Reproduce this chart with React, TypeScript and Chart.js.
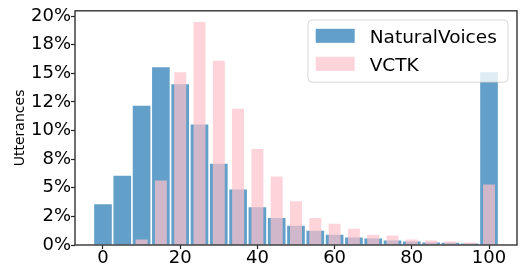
import React, { useEffect, useRef } from 'react';
import { Chart, registerables } from 'chart.js';

Chart.register(...registerables);

const binCenters = [0, 5, 10, 15, 20, 25, 30, 35, 40, 45, 50, 55, 60, 65, 70, 75, 80, 85, 90, 95, 100];
const naturalVoices = [3.57, 6.06, 12.17, 15.53, 14.06, 10.54, 7.1, 4.86, 3.31, 2.37, 1.68, 1.25, 0.9, 0.65, 0.56, 0.39, 0.3, 0.22, 0.2, 0.13, 15.1];
const vctk = [0, 0, 0.47, 5.63, 15.1, 19.5, 16.1, 11.9, 8.39, 5.98, 3.83, 2.37, 1.85, 1.42, 0.9, 0.82, 0.47, 0.39, 0.3, 0.22, 5.29];
const seriesNames = ['NaturalVoices', 'VCTK'];
const yTicks = [0, 2.5, 5, 7.5, 10, 12.5, 15, 17.5, 20];
const yTickLabels = ['0%', '2%', '5%', '8%', '10%', '12%', '15%', '18%', '20%'];
const xTicks = [0, 20, 40, 60, 80, 100];
const yLabel = 'Utterances';

const BLUE = 'rgba(31,119,180,0.7)';
const PINK = 'rgba(255,192,203,0.7)';
const FONT = '"DejaVu Sans", sans-serif';

const mplLegend = {
  id: 'mplLegend',
  afterDatasetsDraw(chart: any) {
    const { ctx, chartArea } = chart;
    const w = 200;
    const h = 62;
    const x = chartArea.right - 9 - w;
    const y = chartArea.top + 9.3;
    ctx.save();
    const r = 4;
    ctx.beginPath();
    ctx.moveTo(x + r, y);
    ctx.lineTo(x + w - r, y);
    ctx.arcTo(x + w, y, x + w, y + r, r);
    ctx.lineTo(x + w, y + h - r);
    ctx.arcTo(x + w, y + h, x + w - r, y + h, r);
    ctx.lineTo(x + r, y + h);
    ctx.arcTo(x, y + h, x, y + h - r, r);
    ctx.lineTo(x, y + r);
    ctx.arcTo(x, y, x + r, y, r);
    ctx.closePath();
    ctx.fillStyle = 'rgba(255,255,255,0.8)';
    ctx.fill();
    ctx.strokeStyle = 'rgba(204,204,204,0.8)';
    ctx.lineWidth = 1;
    ctx.stroke();
    chart.data.datasets.forEach((ds: any, i: number) => {
      ctx.fillStyle = ds.backgroundColor;
      ctx.fillRect(x + 7.7, y + 8.7 + i * 28, 39, 14);
      ctx.fillStyle = '#000';
      ctx.font = '18.5px ' + FONT;
      ctx.textBaseline = 'alphabetic';
      ctx.textAlign = 'left';
      ctx.fillText(ds.label, x + 61.7, y + 22.7 + i * 28);
    });
    ctx.restore();
  },
};

const spines = {
  id: 'spines',
  afterDraw(chart: any) {
    const { ctx, chartArea } = chart;
    ctx.save();
    ctx.strokeStyle = '#333';
    ctx.lineWidth = 1.4;
    ctx.strokeRect(chartArea.left, chartArea.top, chartArea.right - chartArea.left, chartArea.bottom - chartArea.top);
    ctx.restore();
  },
};

export default function App() {
  const ref = useRef<HTMLCanvasElement | null>(null);
  useEffect(() => {
    document.body.style.margin = '0';
    const canvas = ref.current;
    if (!canvas) return;
    const chart = new Chart(canvas, {
      type: 'bar',
      data: {
        datasets: [
          {
            label: seriesNames[0],
            data: binCenters.map((c, i) => ({ x: c, y: naturalVoices[i] })),
            backgroundColor: BLUE,
            borderWidth: 0,
            barPercentage: 0.915,
            categoryPercentage: 1,
            grouped: false,
            order: 2,
          },
          {
            label: seriesNames[1],
            data: binCenters.map((c, i) => ({ x: c, y: vctk[i] })),
            backgroundColor: PINK,
            borderWidth: 0,
            barPercentage: 0.62,
            categoryPercentage: 1,
            grouped: false,
            order: 1,
          },
        ],
      } as any,
      options: {
        responsive: false,
        animation: false,
        layout: { padding: { top: 8, right: 5, left: 0, bottom: 0 } },
        plugins: { legend: { display: false }, tooltip: { enabled: false } },
        scales: {
          x: {
            type: 'linear',
            min: -7.25,
            max: 107.25,
            offset: false,
            afterBuildTicks: (s: any) => {
              s.ticks = xTicks.map((v) => ({ value: v }));
            },
            afterFit: (s: any) => {
              s.height = 26;
            },
            ticks: {
              font: { size: 18, family: FONT },
              color: '#000',
              padding: -1,
              maxRotation: 0,
              autoSkip: false,
              callback: (v: any) => String(v),
            },
            grid: {
              display: true,
              drawOnChartArea: false,
              drawTicks: true,
              tickLength: 4,
              tickColor: '#222',
              tickWidth: 1.2,
              offset: false,
            },
            border: { display: false },
          },
          y: {
            type: 'linear',
            min: 0,
            max: 20.47,
            afterBuildTicks: (s: any) => {
              s.ticks = yTicks.map((v) => ({ value: v }));
            },
            afterFit: (s: any) => {
              s.width = 75;
            },
            ticks: {
              font: { size: 18, family: FONT },
              color: '#000',
              padding: 0,
              autoSkip: false,
              callback: (_v: any, i: number) => yTickLabels[i],
            },
            grid: {
              display: true,
              drawOnChartArea: false,
              drawTicks: true,
              tickLength: 4,
              tickColor: '#222',
              tickWidth: 1.2,
            },
            border: { display: false },
            title: {
              display: true,
              text: yLabel,
              color: '#000',
              font: { size: 14, family: FONT },
              padding: { top: 12, bottom: 0 },
            },
          },
        },
      } as any,
      plugins: [mplLegend, spines],
    });
    return () => chart.destroy();
  }, []);
  return (
    <div style={{ width: 522, height: 271 }}>
      <canvas ref={ref} width={522} height={271} style={{ display: 'block' }} />
    </div>
  );
}
